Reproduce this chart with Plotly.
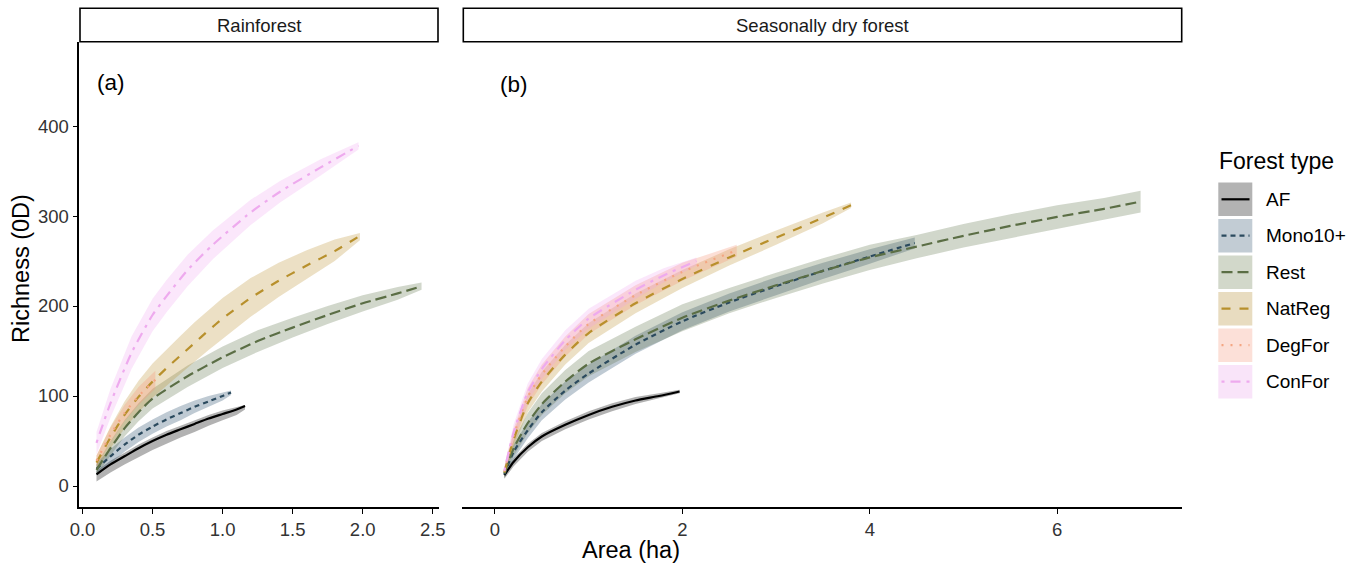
import plotly.graph_objects as go

W, H = 1357, 563
FONT = "Liberation Sans, Arial, sans-serif"

# ---------------- data ----------------
forest_types = ["AF", "Mono10+", "Rest", "NatReg", "DegFor", "ConFor"]
panels = ["Rainforest", "Seasonally dry forest"]

# Panel (a) Rainforest
af_a_x = [0.1, 0.2, 0.3, 0.4, 0.5, 0.6, 0.7, 0.8, 0.9, 1.0, 1.1, 1.16]
af_a_y = [13, 24, 33, 42, 50, 57, 63, 69, 75, 80, 85, 89]
af_a_lo = [5, 15, 24, 32, 40, 47, 54, 60, 67, 73, 79, 85]
af_a_hi = [17, 28, 37, 46, 54, 61, 67, 73, 79, 84, 88, 90]

mono_a_x = [0.1, 0.2, 0.3, 0.4, 0.5, 0.6, 0.7, 0.8, 0.9, 1.0, 1.06]
mono_a_y = [19, 33, 46, 57, 66, 74, 81, 88, 94, 100, 104]
mono_a_lo = [12, 25, 38, 49, 58, 66, 73, 81, 88, 95, 101]
mono_a_hi = [25, 41, 54, 65, 74, 82, 89, 95, 100, 104, 106]

rest_a_x = [0.1, 0.2, 0.3, 0.4, 0.5, 0.75, 1.0, 1.25, 1.5, 1.75, 2.0, 2.25, 2.42]
rest_a_y = [18, 42, 64, 82, 97, 122, 143, 161, 176, 190, 203, 214, 222]
rest_a_lo = [12, 34, 55, 72, 86, 110, 131, 149, 165, 180, 194, 207, 218]
rest_a_hi = [24, 50, 73, 92, 108, 134, 155, 173, 187, 200, 212, 221, 226]

natreg_a_x = [0.1, 0.2, 0.3, 0.4, 0.5, 0.6, 0.7, 0.8, 0.9, 1.0, 1.2, 1.4, 1.6, 1.8, 1.98]
natreg_a_y = [26, 54, 79, 99, 116, 131, 145, 159, 173, 186, 209, 228, 245, 261, 278]
natreg_a_lo = [18, 42, 64, 82, 98, 112, 125, 138, 151, 164, 188, 210, 230, 250, 273]
natreg_a_hi = [34, 66, 94, 117, 136, 152, 167, 182, 196, 209, 231, 248, 262, 274, 281]

degfor_a_x = [0.1, 0.2, 0.3, 0.4, 0.52]
degfor_a_y = [28, 57, 81, 100, 118]
degfor_a_lo = [22, 49, 72, 90, 108]
degfor_a_hi = [34, 65, 90, 110, 128]

confor_a_x = [0.1, 0.2, 0.35, 0.5, 0.6, 0.75, 0.93, 1.2, 1.41, 1.7, 1.97]
confor_a_y = [48, 92, 148, 190, 211, 240, 268, 304, 327, 354, 378]
confor_a_lo = [35, 76, 130, 172, 193, 222, 252, 290, 315, 345, 374]
confor_a_hi = [60, 108, 166, 208, 229, 257, 284, 318, 339, 363, 382]

# Panel (b) Seasonally dry forest
af_b_x = [0.1, 0.2, 0.35, 0.5, 0.75, 1.0, 1.25, 1.5, 1.75, 1.97]
af_b_y = [12, 27, 43, 55, 68, 79, 88, 95, 100, 105]
af_b_lo = [8, 22, 38, 50, 63, 74, 83, 91, 97, 103]
af_b_hi = [15, 31, 47, 59, 72, 83, 92, 99, 103, 107]

mono_b_x = [0.1, 0.2, 0.35, 0.5, 0.75, 1.0, 1.5, 2.0, 2.5, 3.0, 3.5, 4.0, 4.48]
mono_b_y = [13, 38, 62, 82, 106, 125, 157, 183, 204, 222, 239, 255, 270]
mono_b_lo = [9, 30, 53, 73, 96, 115, 147, 173, 194, 212, 230, 247, 264]
mono_b_hi = [17, 46, 71, 91, 116, 135, 167, 193, 214, 232, 248, 263, 276]

rest_b_x = [0.1, 0.2, 0.35, 0.5, 0.75, 1.0, 1.5, 2.0, 2.5, 3.0, 3.5, 4.0, 4.5, 5.0, 5.5, 6.0, 6.5, 6.89]
rest_b_y = [14, 42, 70, 91, 116, 136, 163, 187, 206, 223, 239, 254, 266, 278, 289, 299, 308, 316]
rest_b_lo = [9, 33, 59, 79, 103, 122, 149, 172, 192, 209, 225, 240, 253, 265, 276, 286, 296, 304]
rest_b_hi = [19, 51, 81, 103, 129, 150, 177, 202, 220, 237, 253, 268, 279, 291, 302, 312, 320, 328]

natreg_b_x = [0.1, 0.2, 0.35, 0.5, 0.75, 1.0, 1.5, 2.0, 2.5, 3.0, 3.5, 3.8]
natreg_b_y = [15, 52, 92, 116, 146, 170, 203, 230, 254, 276, 298, 312]
natreg_b_lo = [10, 44, 82, 105, 135, 159, 192, 220, 245, 268, 292, 309]
natreg_b_hi = [20, 60, 102, 127, 157, 181, 214, 240, 263, 284, 304, 315]

degfor_b_x = [0.1, 0.2, 0.35, 0.5, 0.75, 1.0, 1.5, 2.0, 2.58]
degfor_b_y = [16, 56, 99, 124, 155, 180, 212, 238, 262]
degfor_b_lo = [11, 48, 89, 113, 144, 169, 201, 228, 255]
degfor_b_hi = [21, 64, 109, 135, 166, 191, 223, 248, 268]

confor_b_x = [0.1, 0.2, 0.35, 0.5, 0.75, 1.0, 1.5, 1.8, 2.15]
confor_b_y = [17, 60, 104, 130, 162, 186, 218, 234, 250]
confor_b_lo = [12, 51, 94, 119, 151, 175, 208, 226, 245]
confor_b_hi = [22, 69, 114, 141, 173, 197, 228, 242, 254]

x_ticks_a = [0, 0.5, 1.0, 1.5, 2.0, 2.5]
x_ticklabels_a = ["0.0", "0.5", "1.0", "1.5", "2.0", "2.5"]
x_ticks_b = [0, 2, 4, 6]
y_ticks = [0, 100, 200, 300, 400]

# ---------------- styles ----------------
line_color = {"AF": "#000000", "Mono10+": "#2b4a5e", "Rest": "#5b6e45",
              "NatReg": "#b8902c", "DegFor": "#f4a582", "ConFor": "#eeaaee"}
fill_color = {"AF": "rgba(95,95,95,0.48)", "Mono10+": "rgba(44,80,110,0.30)",
              "Rest": "rgba(90,110,70,0.28)", "NatReg": "rgba(185,145,45,0.28)",
              "DegFor": "rgba(244,150,120,0.30)", "ConFor": "rgba(240,160,240,0.25)"}
legend_fill = {"AF": "#b3b3b3", "Mono10+": "#c2ccd4", "Rest": "#d2d8ca",
               "NatReg": "#e8dcc0", "DegFor": "#fce0d8", "ConFor": "#f9e4f9"}
dash = {"AF": "solid", "Mono10+": "5px,4px", "Rest": "11px,5px",
        "NatReg": "9px,9px", "DegFor": "2px,7px", "ConFor": "3px,6px,10px,6px"}

series_a = {
    "AF": (af_a_x, af_a_y, af_a_lo, af_a_hi),
    "Mono10+": (mono_a_x, mono_a_y, mono_a_lo, mono_a_hi),
    "Rest": (rest_a_x, rest_a_y, rest_a_lo, rest_a_hi),
    "NatReg": (natreg_a_x, natreg_a_y, natreg_a_lo, natreg_a_hi),
    "DegFor": (degfor_a_x, degfor_a_y, degfor_a_lo, degfor_a_hi),
    "ConFor": (confor_a_x, confor_a_y, confor_a_lo, confor_a_hi),
}
series_b = {
    "AF": (af_b_x, af_b_y, af_b_lo, af_b_hi),
    "Mono10+": (mono_b_x, mono_b_y, mono_b_lo, mono_b_hi),
    "Rest": (rest_b_x, rest_b_y, rest_b_lo, rest_b_hi),
    "NatReg": (natreg_b_x, natreg_b_y, natreg_b_lo, natreg_b_hi),
    "DegFor": (degfor_b_x, degfor_b_y, degfor_b_lo, degfor_b_hi),
    "ConFor": (confor_b_x, confor_b_y, confor_b_lo, confor_b_hi),
}


def PX(x):
    return x / W


def PY(y):
    return 1 - y / H


fig = go.Figure()

for series, xa, ya in [(series_a, "x", "y"), (series_b, "x2", "y2")]:
    # ribbons first
    for ft in forest_types:
        x, y, lo, hi = series[ft]
        fig.add_trace(go.Scatter(
            x=list(x) + list(x)[::-1], y=list(hi) + list(lo)[::-1],
            fill="toself", fillcolor=fill_color[ft], mode="lines",
            line=dict(width=0), xaxis=xa, yaxis=ya,
            hoverinfo="skip", showlegend=False))
    # then lines
    for ft in forest_types:
        x, y, lo, hi = series[ft]
        fig.add_trace(go.Scatter(
            x=x, y=y, mode="lines", name=ft,
            line=dict(color=line_color[ft], width=2.2, dash=dash[ft], shape="spline", smoothing=0.6),
            xaxis=xa, yaxis=ya, showlegend=False))

axis_common = dict(showgrid=False, zeroline=False, showline=True, linecolor="black",
                   linewidth=1.6, ticks="outside", ticklen=5, tickwidth=1.4, automargin=False,
                   tickcolor="black", tickfont=dict(family=FONT, size=18.5, color="#333333"))

y_dom = [PY(506.7), PY(41.7)]
y_rng = [-23, 493.7]

fig.update_layout(
    width=W, height=H, autosize=False,
    margin=dict(l=0, r=0, t=0, b=0, pad=0, autoexpand=False),
    plot_bgcolor="white", paper_bgcolor="white", showlegend=False,
    font=dict(family=FONT, color="black"),
    xaxis=dict(domain=[PX(79.3), PX(438.5)], range=[-0.0228, 2.541], anchor="y",
               tickvals=x_ticks_a, ticktext=x_ticklabels_a, **axis_common),
    yaxis=dict(domain=y_dom, range=y_rng, anchor="x", tickvals=y_ticks, **axis_common),
    xaxis2=dict(domain=[PX(462), PX(1182)], range=[-0.352, 7.332], anchor="y2",
                tickvals=x_ticks_b, **axis_common),
    yaxis2=dict(domain=y_dom, range=y_rng, anchor="x2", showline=False, showgrid=False,
                zeroline=False, showticklabels=False, ticks="", automargin=False),
)

shapes = []
annotations = []

# facet strips
strip_boxes = [(80, 438), (463.3, 1181.7)]
for (x0, x1), label in zip(strip_boxes, panels):
    shapes.append(dict(type="rect", xref="paper", yref="paper",
                       x0=PX(x0), x1=PX(x1), y0=PY(41.7), y1=PY(8.3),
                       line=dict(color="black", width=1.6), fillcolor="white"))
    annotations.append(dict(text=label, xref="paper", yref="paper",
                            x=PX((x0 + x1) / 2), y=PY(25), showarrow=False,
                            xanchor="center", yanchor="middle",
                            font=dict(family=FONT, size=18.5, color="#1a1a1a")))

# panel letters
annotations.append(dict(text="(a)", xref="paper", yref="paper", x=PX(111), y=PY(83),
                        showarrow=False, xanchor="center", yanchor="middle",
                        font=dict(family=FONT, size=22.5, color="black")))
annotations.append(dict(text="(b)", xref="paper", yref="paper", x=PX(514), y=PY(84),
                        showarrow=False, xanchor="center", yanchor="middle",
                        font=dict(family=FONT, size=22.5, color="black")))

# axis titles
annotations.append(dict(text="Area (ha)", xref="paper", yref="paper", x=PX(631), y=PY(550),
                        showarrow=False, xanchor="center", yanchor="middle",
                        font=dict(family=FONT, size=23.5, color="black")))
annotations.append(dict(text="Richness (0D)", xref="paper", yref="paper", x=PX(21), y=PY(269),
                        showarrow=False, xanchor="center", yanchor="middle", textangle=-90,
                        font=dict(family=FONT, size=23.5, color="black")))

# manual legend
annotations.append(dict(text="Forest type", xref="paper", yref="paper", x=PX(1217), y=PY(161),
                        showarrow=False, xanchor="left", yanchor="middle",
                        font=dict(family=FONT, size=23, color="black")))
centers = [199.3, 235.7, 272.2, 308.7, 345.2, 381.7]
for ft, cy in zip(forest_types, centers):
    shapes.append(dict(type="rect", xref="paper", yref="paper",
                       x0=PX(1218.3), x1=PX(1252.3), y0=PY(cy + 16.8), y1=PY(cy - 16.8),
                       line=dict(width=0), fillcolor=legend_fill[ft]))
    shapes.append(dict(type="line", xref="paper", yref="paper",
                       x0=PX(1221.5), x1=PX(1249.5), y0=PY(cy), y1=PY(cy),
                       line=dict(color=line_color[ft], width=2.2, dash=dash[ft])))
    annotations.append(dict(text=ft, xref="paper", yref="paper", x=PX(1264), y=PY(cy),
                            showarrow=False, xanchor="left", yanchor="middle",
                            font=dict(family=FONT, size=19, color="black")))

fig.update_layout(shapes=shapes, annotations=annotations)

fig.write_html("out.html", config={"responsive": False})
